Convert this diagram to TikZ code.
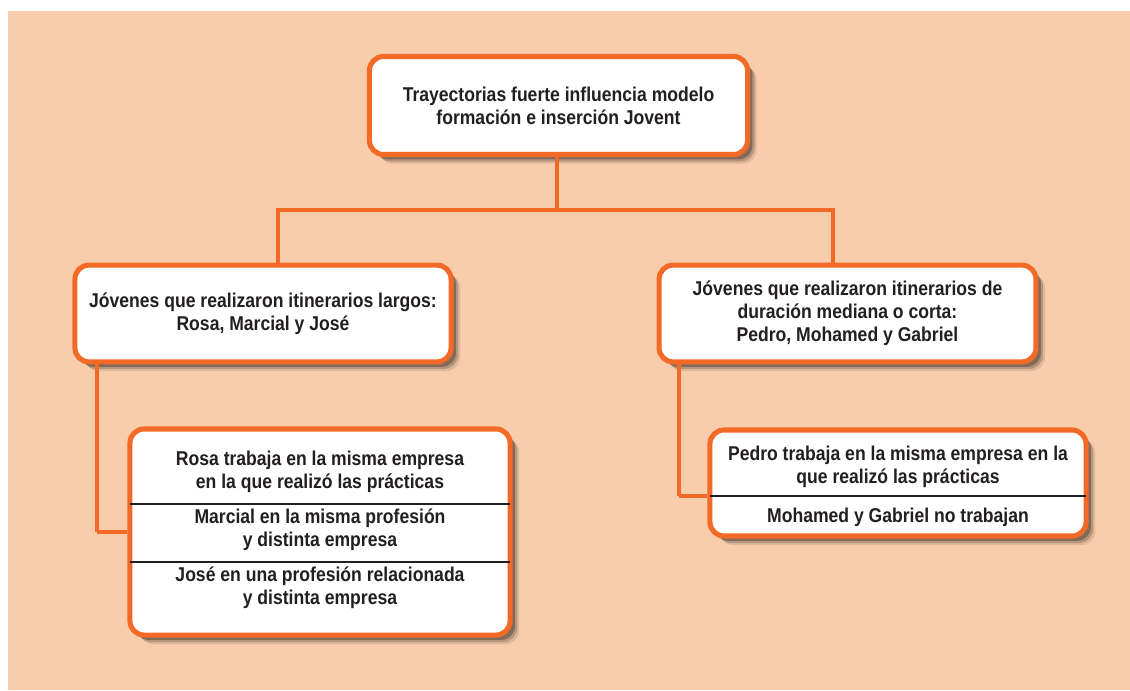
\documentclass[tikz,border=0pt]{standalone}
\usepackage{fontspec}
\setmainfont{Liberation Sans}[FakeStretch=0.88]
\usetikzlibrary{shadows}
\definecolor{peach}{HTML}{F9CCAB}
\definecolor{burnt}{HTML}{F26A26}
\definecolor{ink}{HTML}{231F20}

\begin{document}
\begin{tikzpicture}[x=0.025cm, y=-0.025cm,
  box/.style={draw=burnt,line width=3.6pt,fill=white,rectangle,rounded corners=10pt,
    text centered,align=center,font={\bfseries\fontsize{14.2}{16.2}\selectfont},text=ink,
    drop shadow={shadow xshift=6.5pt,shadow yshift=-6.5pt,fill=black,opacity=0.1},
    drop shadow={shadow xshift=5pt,shadow yshift=-5pt,fill=black,opacity=0.18},
    drop shadow={shadow xshift=3.5pt,shadow yshift=-3.5pt,fill=black,opacity=0.28}},
  item/.style={align=center,font={\bfseries\fontsize{14.2}{16.2}\selectfont},text=ink},
  link/.style={draw=burnt,line width=3pt},
  divider/.style={draw=ink,line width=0.8pt,shorten <=1.6pt,shorten >=1.6pt}]

\useasboundingbox (0,0) rectangle (1130,690);
\fill[peach] (8,11) rectangle (1130,690);

% where the connectors turn
\coordinate (fork) at (557,210);
\coordinate (jl) at (278,210);
\coordinate (jr) at (833,210);
\coordinate (lb) at (97,532);
\coordinate (rb) at (679,496);

\node[box,minimum width=9.45cm,minimum height=2.45cm] (top) at (558.5,105.5) {Trayectorias fuerte influencia modelo\\formación e inserción Jovent};

\node[box,minimum width=9.4cm,minimum height=2.42cm] (left) at (263,313.5) {Jóvenes que realizaron itinerarios largos:\\Rosa, Marcial y José};
\node[box,minimum width=9.42cm,minimum height=2.42cm] (right) at (847.5,313.5) {Jóvenes que realizaron itinerarios de\\duración mediana o corta:\\Pedro, Mohamed y Gabriel};

\draw[link] (fork |- top.south) -- (fork);
\draw[link] (jl |- left.north) -- (jl) -- (jr) -- (jr |- right.north);
\draw[link] (lb |- left.south) -- (lb);
\draw[link] (rb |- right.south) -- (rb);

\node[box,minimum width=9.5cm,minimum height=5.15cm] (lsub) at (320,532) {};
\node[box,minimum width=9.4cm,minimum height=2.65cm] (rsub) at (898,483) {};

\draw[link] (lb) -- (lsub.west |- lb);
\draw[link] (rb) -- (rsub.west |- rb);

\node[item] (rosa) at (320,472) {Rosa trabaja en la misma empresa\\en la que realizó las prácticas};
\node[item] (marcial) at (320,530) {Marcial en la misma profesión\\y distinta empresa};
\node[item] (jose) at (320,588) {José en una profesión relacionada\\y distinta empresa};
\coordinate (lcut1) at (320,504);
\coordinate (lcut2) at (320,562);
\draw[divider] (lsub.west |- lcut1) -- (lsub.east |- lcut1);
\draw[divider] (lsub.west |- lcut2) -- (lsub.east |- lcut2);

\node[item] (pedro) at (898,467) {Pedro trabaja en la misma empresa en la\\que realizó las prácticas};
\node[item] (moha) at (898,517) {Mohamed y Gabriel no trabajan};
\coordinate (rcut1) at (898,496);
\draw[divider] (rsub.west |- rcut1) -- (rsub.east |- rcut1);

\end{tikzpicture}
\end{document}
